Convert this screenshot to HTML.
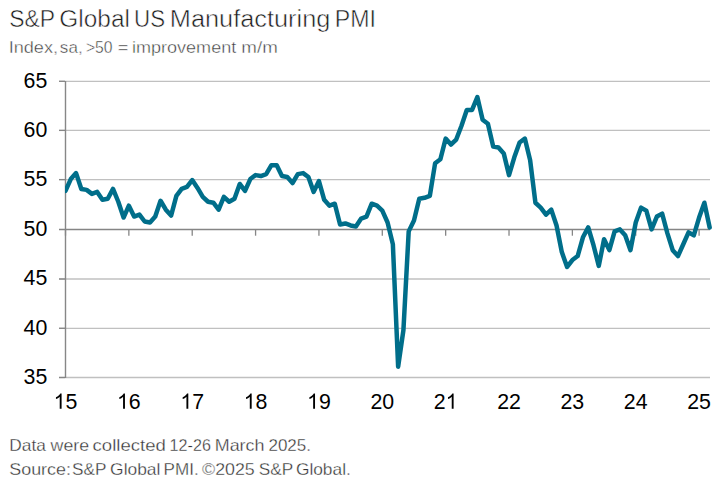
<!DOCTYPE html>
<html><head><meta charset="utf-8"><style>
html,body{margin:0;padding:0;background:#fff;width:720px;height:485px;overflow:hidden}
svg{display:block}
text{font-family:"Liberation Sans",sans-serif}
</style></head><body>
<svg width="720" height="485" viewBox="0 0 720 485">
<defs><clipPath id="pc"><rect x="65" y="0" width="660" height="485"/></clipPath></defs>
<line x1="59" y1="81.3" x2="710" y2="81.3" stroke="#c0c0c0" stroke-width="1.3"/>
<line x1="59" y1="81.3" x2="65" y2="81.3" stroke="#868686" stroke-width="1.3"/>
<line x1="59" y1="130.4" x2="710" y2="130.4" stroke="#c0c0c0" stroke-width="1.3"/>
<line x1="59" y1="130.4" x2="65" y2="130.4" stroke="#868686" stroke-width="1.3"/>
<line x1="59" y1="179.6" x2="710" y2="179.6" stroke="#c0c0c0" stroke-width="1.3"/>
<line x1="59" y1="179.6" x2="65" y2="179.6" stroke="#868686" stroke-width="1.3"/>
<line x1="59" y1="279.0" x2="710" y2="279.0" stroke="#c0c0c0" stroke-width="1.3"/>
<line x1="59" y1="279.0" x2="65" y2="279.0" stroke="#868686" stroke-width="1.3"/>
<line x1="59" y1="328.3" x2="710" y2="328.3" stroke="#c0c0c0" stroke-width="1.3"/>
<line x1="59" y1="328.3" x2="65" y2="328.3" stroke="#868686" stroke-width="1.3"/>
<line x1="59" y1="377.5" x2="710" y2="377.5" stroke="#c0c0c0" stroke-width="1.3"/>
<line x1="59" y1="377.5" x2="65" y2="377.5" stroke="#868686" stroke-width="1.3"/>

<line x1="65.5" y1="81" x2="65.5" y2="378" stroke="#878787" stroke-width="1.4"/>
<line x1="59" y1="229.5" x2="710" y2="229.5" stroke="#858585" stroke-width="1.4"/>
<line x1="65.5" y1="230" x2="65.5" y2="235.7" stroke="#868686" stroke-width="1.3"/>
<line x1="128.86" y1="230" x2="128.86" y2="235.7" stroke="#868686" stroke-width="1.3"/>
<line x1="192.22" y1="230" x2="192.22" y2="235.7" stroke="#868686" stroke-width="1.3"/>
<line x1="255.57999999999998" y1="230" x2="255.57999999999998" y2="235.7" stroke="#868686" stroke-width="1.3"/>
<line x1="318.94" y1="230" x2="318.94" y2="235.7" stroke="#868686" stroke-width="1.3"/>
<line x1="382.3" y1="230" x2="382.3" y2="235.7" stroke="#868686" stroke-width="1.3"/>
<line x1="445.65999999999997" y1="230" x2="445.65999999999997" y2="235.7" stroke="#868686" stroke-width="1.3"/>
<line x1="509.02" y1="230" x2="509.02" y2="235.7" stroke="#868686" stroke-width="1.3"/>
<line x1="572.38" y1="230" x2="572.38" y2="235.7" stroke="#868686" stroke-width="1.3"/>
<line x1="635.74" y1="230" x2="635.74" y2="235.7" stroke="#868686" stroke-width="1.3"/>
<line x1="699.1" y1="230" x2="699.1" y2="235.7" stroke="#868686" stroke-width="1.3"/>

<polyline points="65.50,190.89 70.78,179.05 76.06,173.12 81.34,188.92 86.62,189.91 91.90,193.86 97.18,191.88 102.46,199.78 107.74,198.79 113.02,188.92 118.30,201.75 123.58,217.55 128.86,205.70 134.14,216.56 139.42,214.59 144.70,221.50 149.98,222.49 155.26,216.56 160.54,200.77 165.82,209.65 171.10,215.58 176.38,195.83 181.66,188.92 186.94,186.94 192.22,180.03 197.50,187.93 202.78,196.82 208.06,201.75 213.34,202.74 218.62,209.65 223.90,196.82 229.18,201.75 234.46,198.79 239.74,183.98 245.02,190.89 250.30,179.05 255.58,175.10 260.86,176.08 266.14,174.11 271.42,165.22 276.70,165.22 281.98,176.08 287.26,177.07 292.54,183.00 297.82,174.11 303.10,173.12 308.38,177.07 313.66,191.88 318.94,181.02 324.22,199.78 329.50,205.70 334.78,203.73 340.06,224.46 345.34,223.48 350.62,225.45 355.90,226.44 361.18,218.54 366.46,216.56 371.74,203.73 377.02,205.70 382.30,210.64 387.58,222.49 392.86,244.21 398.14,366.64 403.42,330.11 408.70,231.37 413.98,220.51 419.26,198.79 424.54,197.81 429.82,195.83 435.10,163.25 440.38,159.30 445.66,138.57 450.94,144.49 456.22,139.55 461.50,125.73 466.78,109.93 472.06,109.93 477.34,97.10 482.62,119.81 487.90,123.76 493.18,146.46 498.46,147.45 503.74,153.38 509.02,175.10 514.30,157.32 519.58,142.51 524.86,138.57 530.14,160.29 535.42,202.74 540.70,207.68 545.98,214.59 551.26,209.65 556.54,225.45 561.82,252.11 567.10,266.92 572.38,260.01 577.66,256.06 582.94,237.30 588.22,227.43 593.50,245.20 598.78,265.93 604.06,239.27 609.34,250.13 614.62,231.37 619.90,229.40 625.18,235.32 630.46,250.13 635.74,222.49 641.02,207.68 646.30,210.64 651.58,229.40 656.86,216.56 662.14,213.60 667.42,233.35 672.70,250.13 677.98,256.06 683.26,244.21 688.54,232.36 693.82,235.32 699.10,217.55 704.38,202.74 709.66,227.43" fill="none" stroke="#006e8a" stroke-width="4.5" clip-path="url(#pc)" stroke-linejoin="round" stroke-linecap="round"/>
<g font-size="21.33" fill="#000">
<text x="47.3" y="87.7" text-anchor="end">65</text>
<text x="47.3" y="136.8" text-anchor="end">60</text>
<text x="47.3" y="186.0" text-anchor="end">55</text>
<text x="47.3" y="235.9" text-anchor="end">50</text>
<text x="47.3" y="285.4" text-anchor="end">45</text>
<text x="47.3" y="334.7" text-anchor="end">40</text>
<text x="47.3" y="383.9" text-anchor="end">35</text>

<path d="M763 0H583V1147Q518 1085 412 1023T222 930V1104Q372 1175 484 1276T643 1472H763Z" transform="translate(53.64,408.8) scale(0.010415,-0.010415)"/>
<text x="71.43" y="408.8" text-anchor="middle">5</text>
<path d="M763 0H583V1147Q518 1085 412 1023T222 930V1104Q372 1175 484 1276T643 1472H763Z" transform="translate(117.00,408.8) scale(0.010415,-0.010415)"/>
<text x="134.79" y="408.8" text-anchor="middle">6</text>
<path d="M763 0H583V1147Q518 1085 412 1023T222 930V1104Q372 1175 484 1276T643 1472H763Z" transform="translate(180.36,408.8) scale(0.010415,-0.010415)"/>
<text x="198.15" y="408.8" text-anchor="middle">7</text>
<path d="M763 0H583V1147Q518 1085 412 1023T222 930V1104Q372 1175 484 1276T643 1472H763Z" transform="translate(243.72,408.8) scale(0.010415,-0.010415)"/>
<text x="261.51" y="408.8" text-anchor="middle">8</text>
<path d="M763 0H583V1147Q518 1085 412 1023T222 930V1104Q372 1175 484 1276T643 1472H763Z" transform="translate(307.08,408.8) scale(0.010415,-0.010415)"/>
<text x="324.87" y="408.8" text-anchor="middle">9</text>
<text x="376.37" y="408.8" text-anchor="middle">2</text>
<text x="388.23" y="408.8" text-anchor="middle">0</text>
<text x="439.73" y="408.8" text-anchor="middle">2</text>
<path d="M763 0H583V1147Q518 1085 412 1023T222 930V1104Q372 1175 484 1276T643 1472H763Z" transform="translate(445.66,408.8) scale(0.010415,-0.010415)"/>
<text x="503.09" y="408.8" text-anchor="middle">2</text>
<text x="514.95" y="408.8" text-anchor="middle">2</text>
<text x="566.45" y="408.8" text-anchor="middle">2</text>
<text x="578.31" y="408.8" text-anchor="middle">3</text>
<text x="629.81" y="408.8" text-anchor="middle">2</text>
<text x="641.67" y="408.8" text-anchor="middle">4</text>
<text x="693.17" y="408.8" text-anchor="middle">2</text>
<text x="705.03" y="408.8" text-anchor="middle">5</text>

</g>
<text x="9.2" y="27.3" font-size="23" fill="#1c1c1c" stroke="#fff" stroke-width="0.5" textLength="45.87" lengthAdjust="spacingAndGlyphs">S&amp;P</text>
<text x="59.37" y="27.3" font-size="23" fill="#1c1c1c" stroke="#fff" stroke-width="0.5" textLength="70.5" lengthAdjust="spacingAndGlyphs">Global</text>
<text x="134.1" y="27.3" font-size="23" fill="#1c1c1c" stroke="#fff" stroke-width="0.5" textLength="31.02" lengthAdjust="spacingAndGlyphs">US</text>
<text x="169.8" y="27.3" font-size="23" fill="#1c1c1c" stroke="#fff" stroke-width="0.5" textLength="160.56" lengthAdjust="spacingAndGlyphs">Manufacturing</text>
<text x="334.79" y="27.3" font-size="23" fill="#1c1c1c" stroke="#fff" stroke-width="0.5" textLength="41.17" lengthAdjust="spacingAndGlyphs">PMI</text>
<text x="8.7" y="52.7" font-size="16" fill="#3a3a3a" stroke="#fff" stroke-width="0.4" textLength="49.32" lengthAdjust="spacingAndGlyphs">Index,</text>
<text x="59.87" y="52.7" font-size="16" fill="#3a3a3a" stroke="#fff" stroke-width="0.4" textLength="22.77" lengthAdjust="spacingAndGlyphs">sa,</text>
<text x="85.97" y="52.7" font-size="16" fill="#3a3a3a" stroke="#fff" stroke-width="0.4" textLength="26.56" lengthAdjust="spacingAndGlyphs">&gt;50</text>
<text x="117.85" y="52.7" font-size="16" fill="#3a3a3a" stroke="#fff" stroke-width="0.4" textLength="10.61" lengthAdjust="spacingAndGlyphs">=</text>
<text x="131.97" y="52.7" font-size="16" fill="#3a3a3a" stroke="#fff" stroke-width="0.4" textLength="104.26" lengthAdjust="spacingAndGlyphs">improvement</text>
<text x="241.33" y="52.7" font-size="16" fill="#3a3a3a" stroke="#fff" stroke-width="0.4" textLength="36.47" lengthAdjust="spacingAndGlyphs">m/m</text>
<text x="9.29" y="451" font-size="16.5" fill="#333" stroke="#fff" stroke-width="0.3" textLength="36.52" lengthAdjust="spacingAndGlyphs">Data</text>
<text x="50.6" y="451" font-size="16.5" fill="#333" stroke="#fff" stroke-width="0.3" textLength="38.52" lengthAdjust="spacingAndGlyphs">were</text>
<text x="92.56" y="451" font-size="16.5" fill="#333" stroke="#fff" stroke-width="0.3" textLength="73.31" lengthAdjust="spacingAndGlyphs">collected</text>
<text x="169.58" y="451" font-size="16.5" fill="#333" stroke="#fff" stroke-width="0.3" textLength="41.31" lengthAdjust="spacingAndGlyphs">12-26</text>
<text x="214.74" y="451" font-size="16.5" fill="#333" stroke="#fff" stroke-width="0.3" textLength="49.74" lengthAdjust="spacingAndGlyphs">March</text>
<text x="268.43" y="451" font-size="16.5" fill="#333" stroke="#fff" stroke-width="0.3" textLength="42.57" lengthAdjust="spacingAndGlyphs">2025.</text>
<text x="9.29" y="475" font-size="16.5" fill="#333" stroke="#fff" stroke-width="0.3" textLength="61.68" lengthAdjust="spacingAndGlyphs">Source:</text>
<text x="72.02" y="475" font-size="16.5" fill="#333" stroke="#fff" stroke-width="0.3" textLength="34.39" lengthAdjust="spacingAndGlyphs">S&amp;P</text>
<text x="110.11" y="475" font-size="16.5" fill="#333" stroke="#fff" stroke-width="0.3" textLength="50.26" lengthAdjust="spacingAndGlyphs">Global</text>
<text x="163.61" y="475" font-size="16.5" fill="#333" stroke="#fff" stroke-width="0.3" textLength="35.06" lengthAdjust="spacingAndGlyphs">PMI.</text>
<text x="202.03" y="475" font-size="16.5" fill="#333" stroke="#fff" stroke-width="0.3" textLength="52.74" lengthAdjust="spacingAndGlyphs">©2025</text>
<text x="258.72" y="475" font-size="16.5" fill="#333" stroke="#fff" stroke-width="0.3" textLength="34.39" lengthAdjust="spacingAndGlyphs">S&amp;P</text>
<text x="295.91" y="475" font-size="16.5" fill="#333" stroke="#fff" stroke-width="0.3" textLength="54.9" lengthAdjust="spacingAndGlyphs">Global.</text>
</svg>
</body></html>
